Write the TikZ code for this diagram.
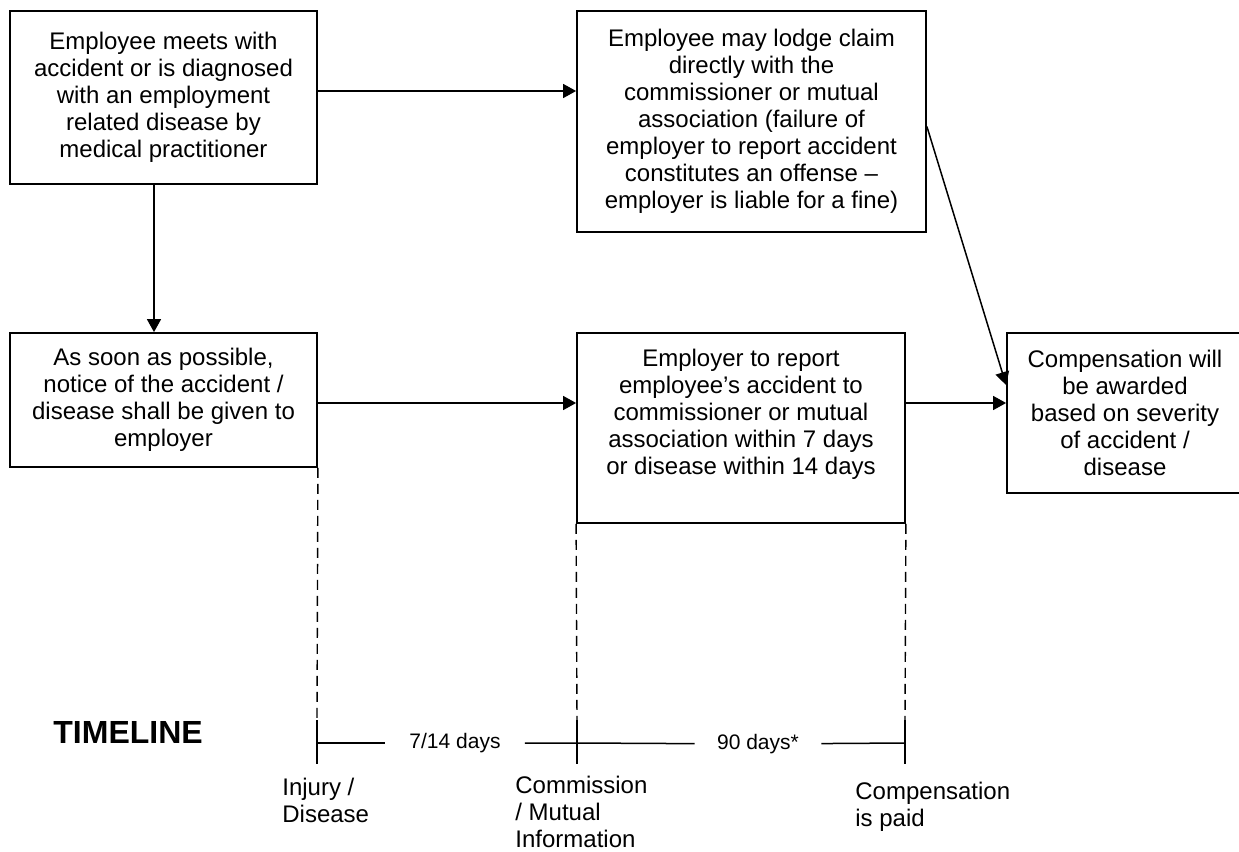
\documentclass[tikz,border=0pt]{standalone}
\usepackage{fontspec}
\setmainfont{Liberation Sans}
\usetikzlibrary{arrows.meta}

\begin{document}
\begin{tikzpicture}[x=0.5pt,y=-0.5pt,
  stagebox/.style={draw,line width=0.9pt,inner sep=0pt,align=center,font=\fontsize{12}{13.5}\selectfont},
  flow/.style={-{Triangle[length=6.5pt,width=7pt]},line width=0.75pt},
  guide/.style={line width=0.7pt,dash pattern=on 5pt off 3pt},
  tline/.style={line width=0.75pt},
  daylabel/.style={inner xsep=12pt,inner ysep=0pt,font=\fontsize{10.5}{12}\selectfont},
  milestone/.style={anchor=north west,inner sep=0pt,align=left,font=\fontsize{12}{13.5}\selectfont}]
\useasboundingbox (0,0) rectangle (1239,852);

% process boxes
\node[stagebox,minimum width=153.5pt,minimum height=86.5pt] (accident) at (163.5,97.5) {Employee meets with\\accident or is diagnosed\\with an employment\\related disease by\\medical practitioner};
\node[stagebox,minimum width=174.5pt,minimum height=110.5pt] (claim) at (751.5,121.5) {Employee may lodge claim\\directly with the\\commissioner or mutual\\association (failure of\\employer to report accident\\constitutes an offense –\\employer is liable for a fine)};
\node[stagebox,minimum width=153.5pt,minimum height=67pt] (notice) at (163.5,400) {As soon as possible,\\notice of the accident /\\disease shall be given to\\employer};
\node[stagebox,minimum width=164pt,minimum height=95pt,text depth=16.5pt] (report) at (741,428) {Employer to report\\employee’s accident to\\commissioner or mutual\\association within 7 days\\or disease within 14 days};
\node[stagebox,minimum width=118pt,minimum height=80pt] (award) at (1125,413) {Compensation will\\be awarded\\based on severity\\of accident /\\disease};

% connectors
\coordinate (a1) at ([yshift=3.25pt]accident.east);
\coordinate (a2) at ([xshift=-4.75pt]accident.south);
\coordinate (n1) at ([yshift=-1.5pt]notice.east);
\coordinate (r1) at (report.east |- n1);
\draw[flow] (a1) -- (a1 -| claim.west);
\draw[flow] (a2) -- (a2 |- notice.north);
\draw[flow] (n1) -- (n1 -| report.west);
\draw[flow] (r1) -- (r1 -| award.west);
\draw[flow] ([yshift=-2.5pt]claim.east) -- ([yshift=14pt]award.west);

% timeline
\node[anchor=base west,inner sep=0pt,font=\fontsize{16}{18}\selectfont\bfseries] (title) at (53,743) {TIMELINE};
\foreach \c/\x in {injury/317,commission/577,payment/905}{\coordinate (\c) at (\x,743);}
\node[daylabel] (days1) at (455,743) {7/14 days};
\node[daylabel,inner xsep=11pt] (days2) at (758,744) {90 days*};
\draw[guide] (notice.south east) -- ([yshift=11.5pt]injury);
\draw[guide] (report.south west) -- ([yshift=11.5pt]commission);
\draw[guide] (report.south east) -- ([yshift=11.5pt]payment);
\foreach \c in {injury,commission,payment}{\draw[tline] ([yshift=11.5pt]\c) -- ([yshift=-10.5pt]\c);}
\draw[tline] (injury) -- (days1);
\draw[tline] (days1) -- (commission) -- (days2);
\draw[tline] (days2) -- (payment);

\node[milestone] (injurylbl) at (282,778) {Injury /\\Disease};
\node[milestone] (commissionlbl) at (515,776) {Commission\\/ Mutual\\Information};
\node[milestone] (paymentlbl) at (855,782) {Compensation\\is paid};
\end{tikzpicture}
\end{document}
